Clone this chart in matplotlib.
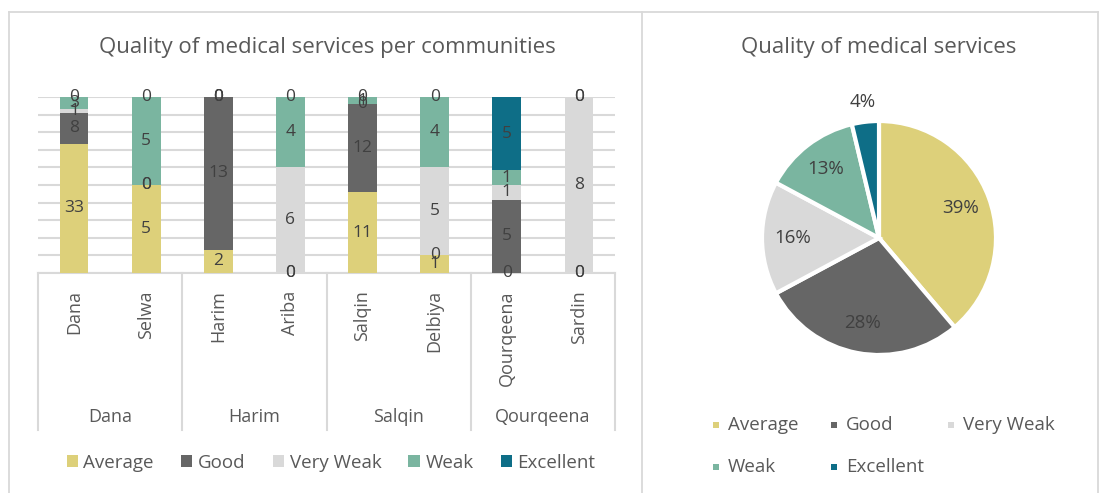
import matplotlib
matplotlib.use("Agg")
import matplotlib.pyplot as plt
from matplotlib.lines import Line2D
from matplotlib.patches import Patch, Rectangle
import numpy as np

# ---------------- data ----------------
communities = ["Dana", "Selwa", "Harim", "Ariba", "Salqin", "Delbiya", "Qourqeena", "Sardin"]
groups = ["Dana", "Harim", "Salqin", "Qourqeena"]
series_names = ["Average", "Good", "Very Weak", "Weak", "Excellent"]
average = [33, 5, 2, 0, 11, 1, 0, 0]
good = [8, 0, 13, 0, 12, 0, 5, 0]
very_weak = [1, 0, 0, 6, 0, 5, 1, 8]
weak = [3, 5, 0, 4, 1, 4, 1, 0]
excellent = [0, 0, 0, 0, 0, 0, 5, 0]
pie_values = [52, 38, 21, 18, 5]

colors = ["#DDD07A", "#666666", "#D9D9D9", "#7AB5A0", "#0E6E87"]
TXT = "#595959"
LBL = "#404040"
GRID = "#D9D9D9"

plt.rcParams['font.family'] = ['Open Sans', 'DejaVu Sans']

W, H = 1102, 493
fig = plt.figure(figsize=(W / 100, H / 100), dpi=100)

def fx(x):
    return x / W

def fy(y):
    return 1 - y / H

# panel frames
fig.add_artist(Line2D([fx(9), fx(1098)], [fy(12), fy(12)], color=GRID, lw=1.3))
for x in [9, 642, 1098]:
    fig.add_artist(Line2D([fx(x), fx(x)], [fy(12), fy(493)], color=GRID, lw=1.3))

# ---------------- left: 100% stacked columns ----------------
ax = fig.add_axes([fx(38), fy(273), fx(615) - fx(38), fy(97) - fy(273)])
series = [average, good, very_weak, weak, excellent]
data = np.array(series, dtype=float)
totals = data.sum(axis=0)
pct = data / totals * 100
x = np.arange(len(communities))
bottom = np.zeros(len(communities))
for i, name in enumerate(series_names):
    ax.bar(x, pct[i], 0.4, bottom=bottom, color=colors[i], zorder=3, label=name)
    for j in range(len(communities)):
        ax.text(x[j], bottom[j] + pct[i][j] / 2, f"{int(data[i][j])}", ha="center", va="center",
                fontsize=12.5, color=LBL, zorder=4)
    bottom += pct[i]

ax.set_xlim(-0.5, len(communities) - 0.5)
ax.set_ylim(0, 100)
ax.set_yticks(np.arange(0, 101, 10))
ax.yaxis.grid(True, color=GRID, lw=1.5, zorder=0)
ax.tick_params(axis="y", left=False, labelleft=False)
ax.tick_params(axis="x", bottom=False, pad=9)
ax.set_xticks(x)
ax.set_xticklabels(communities, rotation=90, fontsize=13, color=TXT, va="top")
for s in ["top", "right", "left"]:
    ax.spines[s].set_visible(False)
ax.spines["bottom"].set_color(GRID)
ax.spines["bottom"].set_linewidth(1.5)

# group separators and group labels
trans = ax.get_xaxis_transform()
sep_bottom = -(430 - 273) / (273 - 97)
for b in np.arange(-0.5, len(communities), 2):
    ax.plot([b, b], [0, sep_bottom], transform=trans, color=GRID, lw=1.5, clip_on=False)
label_y = -(417 - 273) / (273 - 97)
for gi, g in enumerate(groups):
    ax.text(gi * 2 + 0.5, label_y, g, transform=trans, ha="center", va="center",
            fontsize=13, color=TXT)

fig.text(fx(327), fy(48), "Quality of medical services per communities", ha="center", va="center",
         fontsize=16, color=TXT)

handles = [Patch(facecolor=c, edgecolor="none") for c in colors]
fig.legend(handles, series_names, loc="center", bbox_to_anchor=(fx(331), fy(463)), ncol=5,
           frameon=False, fontsize=13.5, labelcolor=TXT, handlelength=0.6, handleheight=0.6,
           handletextpad=0.3, columnspacing=1.45)

# ---------------- right: pie ----------------
r = 117
pax = fig.add_axes([fx(879 - r), fy(238 + r), fx(2 * r), fy(0) - fy(2 * r)])
wedges, texts, autotexts = pax.pie(pie_values, colors=colors, startangle=90, counterclock=False,
                                   autopct=lambda p: f"{p:.0f}%", pctdistance=0.74,
                                   wedgeprops=dict(edgecolor="white", linewidth=3),
                                   textprops=dict(fontsize=13.5, color=LBL))
# small slice label outside
w = wedges[-1]
ang = np.deg2rad((w.theta1 + w.theta2) / 2)
autotexts[-1].set_position((1.17 * np.cos(ang), 1.17 * np.sin(ang)))
pax.set_xlim(-1, 1)
pax.set_ylim(-1, 1)
pax.set_aspect("equal")

fig.text(fx(879), fy(48), "Quality of medical services", ha="center", va="center",
         fontsize=16, color=TXT)

# pie legend (row-major, equal column widths)
col_x = [713, 831, 948]
row_y = [425, 467]
for k, name in enumerate(series_names):
    cx = col_x[k % 3]
    cy = row_y[k // 3]
    fig.add_artist(Rectangle((fx(cx), fy(cy + 3)), fx(6), fy(0) - fy(6), facecolor=colors[k],
                             edgecolor="none", transform=fig.transFigure))
    fig.text(fx(cx + 15), fy(cy), name, ha="left", va="center", fontsize=13.5, color=TXT)

fig.savefig("out.png", dpi=100, facecolor="white")
